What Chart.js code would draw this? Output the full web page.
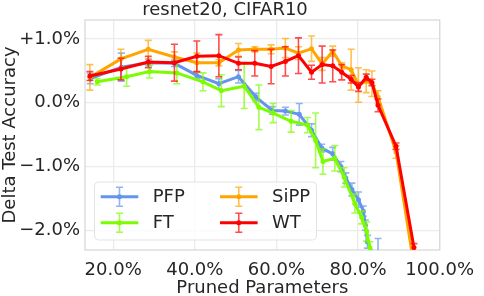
<!DOCTYPE html>
<html><head><meta charset="utf-8">
<script src="https://cdn.jsdelivr.net/npm/chart.js@4/dist/chart.umd.min.js"></script>
<style>html,body{margin:0;padding:0;background:#fff;}#wrap{width:484px;height:296px;}</style>
</head><body><div id="wrap"><canvas id="c" width="484" height="296"></canvas></div>
<script>
const chartTitle = "resnet20, CIFAR10";
const xLabel = "Pruned Parameters";
const yLabel = "Delta Test Accuracy";
const xTicks = [20, 40, 60, 80, 100];
const xTickLabels = ["20.0%", "40.0%", "60.0%", "80.0%", "100.0%"];
const yTicks = [-2, -1, 0, 1];
const yTickLabels = ["\u22122.0%", "\u22121.0%", "0.0%", "+1.0%"];
const seriesNames = ["PFP", "FT", "SiPP", "WT"];
const seriesColors = ["#6495ED", "#7CFC00", "#FFA500", "#FF0000"];

const xPFP = [14.4, 22.0, 28.7, 35.0, 40.5, 45.9, 50.7, 55.0, 59.0, 62.2, 65.6, 68.6, 71.1, 73.8, 75.8, 77.0, 78.5, 80.1, 81.3, 81.8, 82.3, 84.9];
const yPFP = [0.38, 0.56, 0.63, 0.62, 0.43, 0.30, 0.41, 0.09, -0.12, -0.13, -0.18, -0.43, -0.71, -0.80, -1.00, -1.18, -1.36, -1.52, -1.70, -1.92, -2.18, -2.55];
const ePFP = [0.08, 0.22, 0.05, 0.05, 0.05, 0.08, 0.10, 0.06, 0.06, 0.06, 0.17, 0.10, 0.06, 0.10, 0.08, 0.08, 0.10, 0.12, 0.08, 0.08, 0.10, 0.42];

const xFT = [16.1, 23.3, 28.9, 35.6, 42.0, 46.5, 52.1, 55.7, 59.2, 63.6, 67.6, 69.6, 71.4, 74.3, 76.6, 79.2, 80.9, 82.1, 82.9];
const yFT = [0.33, 0.41, 0.49, 0.47, 0.33, 0.19, 0.26, -0.07, -0.16, -0.29, -0.35, -0.59, -0.92, -0.87, -1.17, -1.58, -1.80, -2.02, -2.28];
const eFT = [0.05, 0.15, 0.10, 0.17, 0.14, 0.25, 0.35, 0.35, 0.15, 0.17, 0.12, 0.43, 0.20, 0.20, 0.15, 0.15, 0.10, 0.15, 0.10];

const xSiPP = [14.3, 21.9, 28.6, 35.0, 40.5, 45.9, 50.7, 54.7, 58.7, 62.2, 65.4, 68.6, 71.2, 73.8, 76.0, 78.3, 80.1, 82.0, 83.4, 84.9, 89.3, 93.7];
const ySiPP = [0.40, 0.69, 0.84, 0.72, 0.63, 0.63, 0.83, 0.84, 0.84, 0.86, 0.78, 0.85, 0.61, 0.81, 0.58, 0.52, 0.28, 0.34, 0.30, 0.09, -0.77, -2.55];
const eSiPP = [0.20, 0.15, 0.14, 0.08, 0.15, 0.05, 0.10, 0.04, 0.07, 0.15, 0.10, 0.20, 0.10, 0.08, 0.05, 0.32, 0.27, 0.18, 0.20, 0.10, 0.10, 0.10];

const xWT = [14.3, 21.9, 28.6, 35.0, 40.5, 45.9, 50.7, 54.7, 58.7, 62.2, 65.4, 68.6, 71.2, 73.8, 76.0, 78.3, 80.1, 82.0, 83.4, 84.9, 89.3, 93.7];
const yWT = [0.42, 0.53, 0.64, 0.63, 0.73, 0.74, 0.62, 0.62, 0.57, 0.65, 0.74, 0.48, 0.60, 0.58, 0.48, 0.37, 0.25, 0.40, 0.32, -0.04, -0.68, -2.27];
const eWT = [0.07, 0.17, 0.09, 0.29, 0.24, 0.33, 0.10, 0.20, 0.27, 0.23, 0.28, 0.11, 0.29, 0.25, 0.12, 0.06, 0.07, 0.05, 0.05, 0.10, 0.05, 0.06];

const allX = [xPFP, xFT, xSiPP, xWT];
const allY = [yPFP, yFT, ySiPP, yWT];
const allE = [ePFP, eFT, eSiPP, eWT];

const FONT = "DejaVu Sans";
const TEXT = "#262626";

function alpha(hex, a) {
  const n = parseInt(hex.slice(1), 16);
  return `rgba(${(n >> 16) & 255},${(n >> 8) & 255},${n & 255},${a})`;
}

const datasets = seriesNames.map((name, i) => ({
  label: name,
  data: allX[i].map((x, j) => ({ x: x, y: allY[i][j] })),
  errors: allE[i],
  showLine: true,
  borderColor: seriesColors[i],
  backgroundColor: seriesColors[i],
  borderWidth: 3,
  pointRadius: 2.5,
  pointBorderWidth: 0,
  pointBackgroundColor: seriesColors[i],
  tension: 0,
  order: 3 - i
}));

const frame = {
  id: 'frame',
  beforeDatasetsDraw(chart) {
    const { ctx, chartArea: a } = chart;
    ctx.save();
    ctx.strokeStyle = '#d9d9d9';
    ctx.lineWidth = 1.3;
    ctx.strokeRect(a.left, a.top, a.right - a.left, a.bottom - a.top);
    ctx.restore();
  }
};

const errorBars = {
  id: 'errorBars',
  beforeDatasetDraw(chart, args) {
    const ds = chart.data.datasets[args.index];
    const xs = chart.scales.x, ys = chart.scales.y;
    const { ctx, chartArea: a } = chart;
    ctx.save();
    ctx.beginPath();
    ctx.rect(a.left, a.top, a.right - a.left, a.bottom - a.top);
    ctx.clip();
    ctx.strokeStyle = alpha(ds.borderColor, 0.7);
    ctx.lineWidth = 1.6;
    ds.data.forEach((p, j) => {
      const e = ds.errors[j];
      const px = xs.getPixelForValue(p.x);
      const y1 = ys.getPixelForValue(p.y + e);
      const y2 = ys.getPixelForValue(p.y - e);
      ctx.beginPath();
      ctx.moveTo(px, y1); ctx.lineTo(px, y2);
      ctx.moveTo(px - 3.5, y1); ctx.lineTo(px + 3.5, y1);
      ctx.moveTo(px - 3.5, y2); ctx.lineTo(px + 3.5, y2);
      ctx.stroke();
    });
    ctx.restore();
  }
};

const customLegend = {
  id: 'customLegend',
  afterDraw(chart) {
    const ctx = chart.ctx;
    const bx = 94.5, by = 182, bw = 222, bh = 58, r = 4;
    ctx.save();
    ctx.fillStyle = 'rgba(255,255,255,0.8)';
    ctx.strokeStyle = '#e3e3e3';
    ctx.lineWidth = 1;
    ctx.beginPath();
    ctx.roundRect(bx, by, bw, bh, r);
    ctx.fill();
    ctx.stroke();
    const cols = [100.7, 220];
    const rows = [196.7, 222.7];
    const order = [[0, 0, 0], [1, 0, 1], [2, 1, 0], [3, 1, 1]];
    ctx.font = `18px "${FONT}"`;
    ctx.textBaseline = 'middle';
    order.forEach(([i, c, rr]) => {
      const x0 = cols[c], y0 = rows[rr];
      const col = seriesColors[i];
      ctx.strokeStyle = col;
      ctx.lineWidth = 3;
      ctx.beginPath(); ctx.moveTo(x0, y0); ctx.lineTo(x0 + 37.6, y0); ctx.stroke();
      const mx = x0 + 18.8;
      ctx.strokeStyle = alpha(col, 0.7);
      ctx.lineWidth = 1.6;
      ctx.beginPath();
      ctx.moveTo(mx, y0 - 9.5); ctx.lineTo(mx, y0 + 9.5);
      ctx.moveTo(mx - 3.5, y0 - 9.5); ctx.lineTo(mx + 3.5, y0 - 9.5);
      ctx.moveTo(mx - 3.5, y0 + 9.5); ctx.lineTo(mx + 3.5, y0 + 9.5);
      ctx.stroke();
      ctx.fillStyle = col;
      ctx.beginPath(); ctx.arc(mx, y0, 2.5, 0, Math.PI * 2); ctx.fill();
      ctx.fillStyle = TEXT;
      ctx.fillText(seriesNames[i], x0 + 52, y0 + 1);
    });
    ctx.restore();
  }
};

new Chart(document.getElementById('c'), {
  type: 'scatter',
  data: { datasets },
  options: {
    responsive: false,
    animation: false,
    devicePixelRatio: 1,
    layout: { padding: { left: 0, right: 34, top: 0, bottom: 0 } },
    plugins: {
      legend: { display: false },
      tooltip: { enabled: false },
      title: {
        display: true, text: chartTitle, color: TEXT,
        font: { family: FONT, size: 18, weight: 'normal', lineHeight: 1 },
        padding: { top: 1.5, bottom: 0.5 }
      }
    },
    scales: {
      x: {
        type: 'linear', min: 13.1, max: 100,
        afterBuildTicks: s => { s.ticks = xTicks.map(v => ({ value: v })); },
        afterFit: s => { s.height = 46; },
        ticks: {
          color: TEXT, padding: 10, maxRotation: 0, autoSkip: false,
          font: { family: FONT, size: 18 },
          callback: v => xTickLabels[xTicks.indexOf(v)]
        },
        grid: { color: '#ebebeb', lineWidth: 1.3, drawTicks: false },
        border: { display: false },
        title: {
          display: true, text: xLabel, color: TEXT,
          font: { family: FONT, size: 18, lineHeight: 0.8 },
          padding: { top: 0, bottom: 0 }
        }
      },
      y: {
        type: 'linear', min: -2.31, max: 1.30,
        afterBuildTicks: s => { s.ticks = yTicks.map(v => ({ value: v })); },
        afterFit: s => { s.width = 85; },
        ticks: {
          color: TEXT, padding: 5, autoSkip: false,
          font: { family: FONT, size: 18 },
          callback: v => yTickLabels[yTicks.indexOf(v)]
        },
        grid: { color: '#ebebeb', lineWidth: 1.3, drawTicks: false },
        border: { display: false },
        title: {
          display: true, text: yLabel, color: TEXT,
          font: { family: FONT, size: 18, lineHeight: 1 },
          padding: { top: 1, bottom: 0 }
        }
      }
    }
  },
  plugins: [frame, errorBars, customLegend]
});
</script>
</body></html>
